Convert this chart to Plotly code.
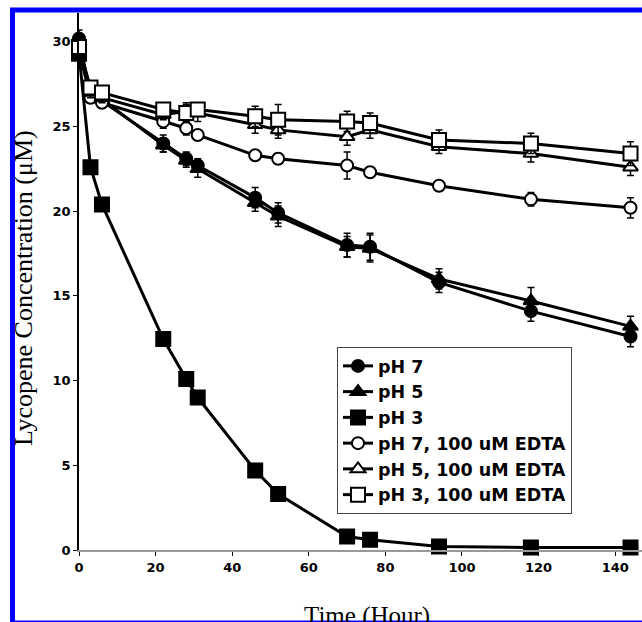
import plotly.graph_objects as go

# ---- data ----
time_h = [0, 3, 6, 22, 28, 31, 46, 52, 70, 76, 94, 118, 144]

ph7 = [30.2, 26.8, 26.5, 24.0, 23.1, 22.7, 20.8, 19.9, 18.0, 17.9, 15.8, 14.1, 12.6]
ph7_err = [0.5, 0.3, 0.3, 0.5, 0.4, 0.4, 0.6, 0.6, 0.7, 0.8, 0.6, 0.6, 0.6]
ph5 = [30.0, 26.9, 26.6, 23.9, 23.0, 22.5, 20.5, 19.7, 17.9, 17.8, 16.0, 14.7, 13.2]
ph5_err = [0.4, 0.3, 0.3, 0.4, 0.4, 0.5, 0.5, 0.6, 0.6, 0.8, 0.6, 0.8, 0.6]
ph3 = [29.3, 22.6, 20.4, 12.45, 10.1, 9.0, 4.7, 3.3, 0.8, 0.6, 0.2, 0.15, 0.15]
ph3_err = [0.3, 0.2, 0.2, 0.2, 0.2, 0.2, 0.2, 0.2, 0.1, 0.1, 0.1, 0.1, 0.1]
ph7_edta = [29.5, 26.7, 26.4, 25.3, 24.9, 24.5, 23.3, 23.1, 22.7, 22.3, 21.5, 20.7, 20.2]
ph7_edta_err = [0.3, 0.3, 0.3, 0.4, 0.4, 0.3, 0.3, 0.3, 0.8, 0.3, 0.3, 0.4, 0.6]
ph5_edta = [29.6, 27.0, 26.7, 25.7, 25.9, 25.8, 25.1, 24.8, 24.4, 24.8, 23.8, 23.4, 22.6]
ph5_edta_err = [0.3, 0.3, 0.3, 0.3, 0.5, 0.5, 0.5, 0.5, 0.5, 0.5, 0.4, 0.5, 0.5]
ph3_edta = [29.7, 27.3, 27.0, 26.0, 25.8, 26.0, 25.6, 25.4, 25.3, 25.2, 24.2, 24.0, 23.4]
ph3_edta_err = [0.3, 0.3, 0.3, 0.3, 0.5, 0.4, 0.6, 0.9, 0.6, 0.6, 0.6, 0.6, 0.7]

names = ["pH 7", "pH 5", "pH 3", "pH 7, 100 uM EDTA", "pH 5, 100 uM EDTA", "pH 3, 100 uM EDTA"]
series = [ph7, ph5, ph3, ph7_edta, ph5_edta, ph3_edta]
errors = [ph7_err, ph5_err, ph3_err, ph7_edta_err, ph5_edta_err, ph3_edta_err]
symbols = ["circle", "triangle-up", "square", "circle", "triangle-up", "square"]
fills = ["black", "black", "black", "white", "white", "white"]
sizes = [12, 13, 14, 12, 13, 14]

fig = go.Figure()
for name, y, e, sym, fc, sz in zip(names, series, errors, symbols, fills, sizes):
    fig.add_trace(go.Scatter(
        x=time_h, y=y, name=name, mode="lines+markers",
        line=dict(color="black", width=3),
        marker=dict(symbol=sym, size=sz, color=fc, line=dict(color="black", width=2)),
        error_y=dict(type="data", array=e, visible=True, color="black", thickness=1.5, width=3.5),
        cliponaxis=False,
    ))

W, H = 642, 622
ml, mr, mt, mb = 79, 0, 13, 72
pw, ph = W - ml - mr, H - mt - mb

def px_x(p):
    return (p - ml) / pw

def px_y(p):
    return (H - mb - p) / ph

tickfont = dict(family="DejaVu Sans", size=13, color="black", weight="bold")

fig.update_layout(
    width=W, height=H,
    margin=dict(l=ml, r=mr, t=mt, b=mb, pad=0),
    paper_bgcolor="white", plot_bgcolor="white",
    showlegend=True,
    legend=dict(
        x=px_x(337), y=px_y(347), xanchor="left", yanchor="top",
        bgcolor="white", bordercolor="#444", borderwidth=1,
        font=dict(family="DejaVu Sans", size=17.5, color="black", weight="bold"),
        tracegroupgap=0, itemwidth=30,
    ),
    xaxis=dict(
        range=[0, 147], tickvals=[0, 20, 40, 60, 80, 100, 120, 140],
        showgrid=False, zeroline=False, showline=True, linecolor="#999999", linewidth=2,
        ticks="outside", ticklen=4, tickcolor="black", tickfont=tickfont,
    ),
    yaxis=dict(
        range=[0, 31.7], tickvals=[0, 5, 10, 15, 20, 25, 30],
        showgrid=False, zeroline=False, showline=True, linecolor="black", linewidth=1.5,
        ticks="outside", ticklen=4, tickcolor="black", tickfont=tickfont,
    ),
    annotations=[
        dict(text="Time (Hour)", xref="paper", yref="paper", x=px_x(367), y=px_y(600),
             xanchor="center", yanchor="top", showarrow=False,
             font=dict(family="Liberation Serif", size=25, color="black")),
        dict(text="Lycopene Concentration (μM)", xref="paper", yref="paper", x=px_x(23), y=px_y(288),
             xanchor="center", yanchor="middle", showarrow=False, textangle=-90,
             font=dict(family="Liberation Serif", size=26, color="black")),
    ],
    shapes=[
        dict(type="rect", xref="paper", yref="paper",
             x0=px_x(12.5), x1=px_x(700), y0=px_y(10), y1=px_y(623),
             line=dict(color="#0000FF", width=5), fillcolor="rgba(0,0,0,0)", layer="above"),
    ],
)

fig.write_html("out.html")
